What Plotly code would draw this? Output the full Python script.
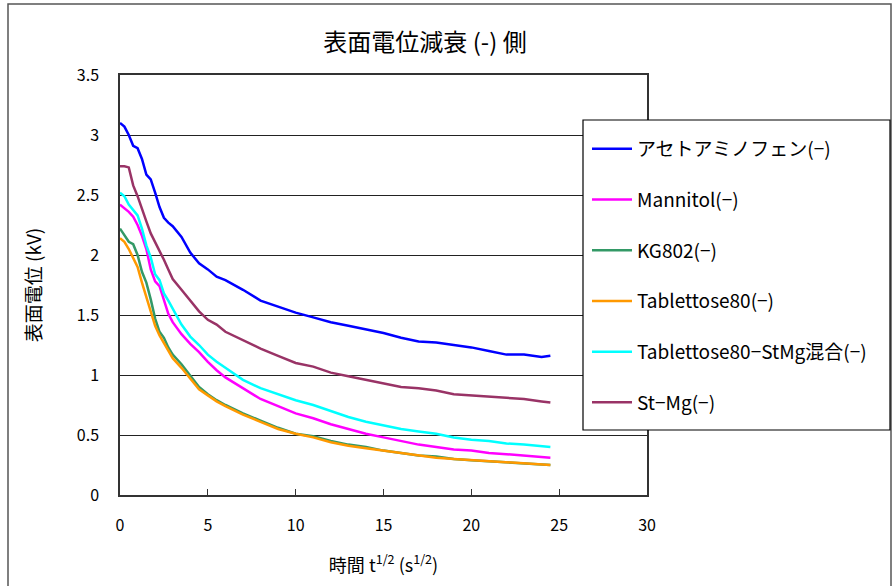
import plotly.graph_objects as go

# sqrt(time) axis values
t_sqrt = [0, 0.25, 0.5, 0.75, 1, 1.25, 1.5, 1.75, 2, 2.25, 2.5, 2.75, 3, 3.5, 4, 4.5, 5, 5.5, 6,
          7, 8, 9, 10, 11, 12, 13, 14, 15, 16, 17, 18, 19, 20, 21, 22, 23, 24, 24.5]

acetaminophen = [3.10, 3.07, 3.00, 2.91, 2.89, 2.80, 2.67, 2.63, 2.52, 2.40, 2.31, 2.27, 2.24, 2.15, 2.02, 1.93, 1.88, 1.82, 1.79,
                 1.71, 1.62, 1.57, 1.52, 1.48, 1.44, 1.41, 1.38, 1.35, 1.31, 1.28, 1.27, 1.25, 1.23, 1.20, 1.17, 1.17, 1.15, 1.16]
mannitol = [2.42, 2.39, 2.36, 2.32, 2.25, 2.16, 2.05, 1.88, 1.78, 1.74, 1.63, 1.51, 1.44, 1.34, 1.26, 1.19, 1.11, 1.04, 0.98,
            0.89, 0.80, 0.74, 0.68, 0.64, 0.59, 0.55, 0.51, 0.48, 0.45, 0.42, 0.40, 0.38, 0.37, 0.35, 0.34, 0.33, 0.32, 0.31]
kg802 = [2.22, 2.17, 2.11, 2.09, 2.00, 1.86, 1.77, 1.63, 1.47, 1.36, 1.31, 1.23, 1.17, 1.09, 0.99, 0.90, 0.84, 0.79, 0.75,
         0.68, 0.62, 0.56, 0.51, 0.49, 0.45, 0.42, 0.40, 0.37, 0.35, 0.33, 0.32, 0.30, 0.29, 0.28, 0.27, 0.26, 0.25, 0.25]
tablettose80 = [2.14, 2.11, 2.05, 1.97, 1.90, 1.77, 1.65, 1.53, 1.41, 1.33, 1.27, 1.20, 1.14, 1.06, 0.97, 0.88, 0.83, 0.78, 0.74,
                0.67, 0.61, 0.55, 0.51, 0.48, 0.44, 0.41, 0.39, 0.37, 0.35, 0.33, 0.31, 0.30, 0.29, 0.28, 0.27, 0.26, 0.25, 0.25]
tablettose80_stmg = [2.52, 2.49, 2.42, 2.37, 2.33, 2.22, 2.08, 1.98, 1.84, 1.79, 1.68, 1.62, 1.55, 1.42, 1.32, 1.25, 1.17, 1.11, 1.06,
                     0.96, 0.89, 0.84, 0.79, 0.75, 0.70, 0.65, 0.61, 0.58, 0.55, 0.53, 0.51, 0.48, 0.46, 0.45, 0.43, 0.42, 0.41, 0.40]
st_mg = [2.74, 2.74, 2.73, 2.58, 2.49, 2.38, 2.28, 2.18, 2.11, 2.03, 1.96, 1.88, 1.80, 1.71, 1.62, 1.53, 1.46, 1.42, 1.36,
         1.29, 1.22, 1.16, 1.10, 1.07, 1.02, 0.99, 0.96, 0.93, 0.90, 0.89, 0.87, 0.84, 0.83, 0.82, 0.81, 0.80, 0.78, 0.77]

series_names = ["アセトアミノフェン(−)", "Mannitol(−)", "KG802(−)", "Tablettose80(−)",
                "Tablettose80−StMg混合(−)", "St−Mg(−)"]
series_values = [acetaminophen, mannitol, kg802, tablettose80, tablettose80_stmg, st_mg]
series_colors = ["#0000FF", "#FF00FF", "#339966", "#FF9900", "#00FFFF", "#993366"]

x_ticks = [0, 5, 10, 15, 20, 25, 30]
y_ticks = [0, 0.5, 1, 1.5, 2, 2.5, 3, 3.5]
y_tick_labels = ["0", "0.5", "1", "1.5", "2", "2.5", "3", "3.5"]

FONT = "Noto Sans CJK JP"

fig = go.Figure()
for i in range(len(series_names)):
    fig.add_trace(go.Scatter(
        x=t_sqrt, y=series_values[i], mode="lines", name=series_names[i],
        line=dict(color=series_colors[i], width=2.5),
        legendgroup=str(i), legendrank=i + 1,
    ))

L, R, T, B = 120, 245, 75, 91
W, H = 892, 586
pw, ph = W - L - R, H - T - B

def px(xp):
    return (xp - L) / pw

def py(yp):
    return (H - B - yp) / ph

fig.update_layout(
    width=W, height=H,
    margin=dict(l=L, r=R, t=T, b=B),
    paper_bgcolor="white", plot_bgcolor="white",
    font=dict(family=FONT, size=16, color="black"),
    title=dict(text="表面電位減衰\u00a0(-)\u00a0側", x=425 / W, xanchor="center",
               y=1 - 43 / H, yanchor="middle", font=dict(size=24, family=FONT)),
    showlegend=True,
    legend=dict(x=px(587), y=py(130), xanchor="left", yanchor="top",
                bgcolor="rgba(0,0,0,0)", borderwidth=0,
                font=dict(size=19, family=FONT), tracegroupgap=23,
                traceorder="grouped", itemwidth=40),
    shapes=[
        dict(type="rect", xref="paper", yref="paper", x0=px(8), x1=px(891), y0=py(600), y1=py(4),
             line=dict(color="#555555", width=1.5), fillcolor="rgba(0,0,0,0)", layer="below"),
        dict(type="rect", xref="paper", yref="paper", x0=px(583), x1=px(890), y0=py(430), y1=py(120),
             line=dict(color="black", width=1.2), fillcolor="white", layer="above"),
    ],
)

fig.update_xaxes(
    range=[0, 30], tickvals=x_ticks, ticks="inside", ticklen=6, tickcolor="#333333",
    showline=True, linecolor="#333333", linewidth=1.5, mirror=True,
    showgrid=False, zeroline=False, ticklabelstandoff=15,
    tickfont=dict(size=16, family=FONT),
    title=dict(text="時間 t<sup>1/2</sup> (s<sup>1/2</sup>)", standoff=24, font=dict(size=18, family=FONT)),
)
fig.update_yaxes(
    range=[0, 3.5], tickvals=y_ticks, ticktext=y_tick_labels, ticks="",
    showline=True, linecolor="#333333", linewidth=1.5, mirror=True,
    showgrid=True, gridcolor="#222222", gridwidth=1, zeroline=False, ticklabelstandoff=16,
    tickfont=dict(size=16, family=FONT),
    title=dict(text="表面電位 (kV)", standoff=30, font=dict(size=19, family=FONT)),
)

fig.write_html("out.html", config={"displayModeBar": False},
               post_script="document.body.style.margin='0px';")
